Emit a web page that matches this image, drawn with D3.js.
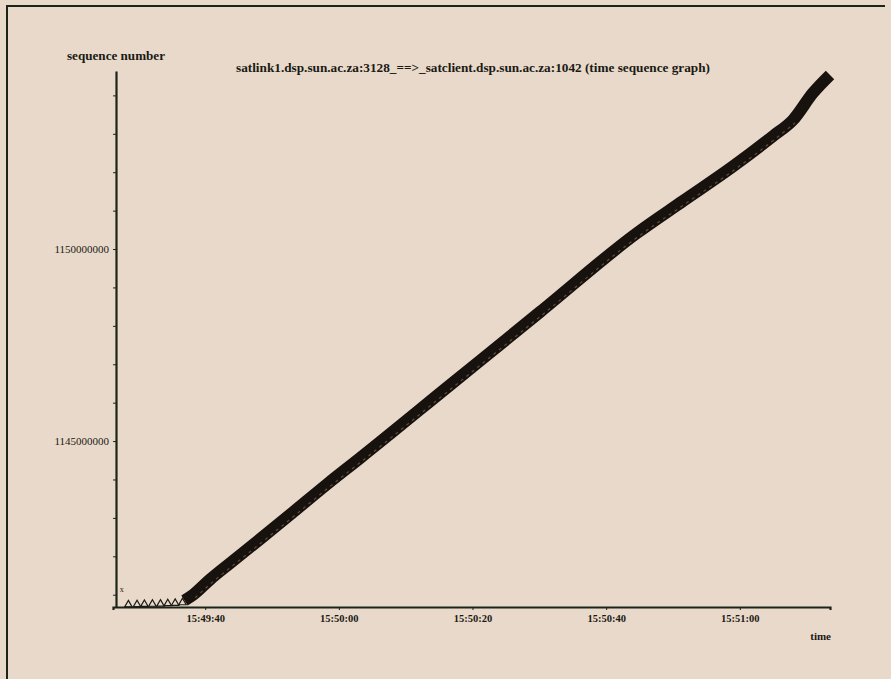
<!DOCTYPE html>
<html lang="en">
<head>
    <meta charset="UTF-8">
    <script src="https://cdn.jsdelivr.net/npm/d3@7"></script>
    <style>
        body{
            margin:0;
            background:#e9d9ca;
        }
        svg text{
            font-family:"Liberation Serif","DejaVu Serif",serif;
            fill:#1a1a14;
        }
        .axis path,.axis line{
            stroke:#1c2419;
        }
    </style>
    <title>time sequence graph</title>
</head>
<body>
    <script>
        // seconds after 15:49:00 and sequence numbers
        var bandTimes = [36.9, 38.2, 40.75, 43.74, 48.23, 53.16, 58.25, 63.19, 76.65, 90.11, 104.62, 111.5, 118.98, 124.97, 127.96, 130.95, 133.5];
        var bandSeq = [1140850000, 1141000000, 1141400000, 1141823000, 1142450000, 1143150000, 1143880000, 1144560000, 1146460000, 1148360000, 1150417000, 1151250000, 1152150000, 1152940000, 1153359000, 1154063000, 1154531000];
        var startTimes = [28.5, 29.8, 30.9, 32.1, 33.3, 34.4, 35.5, 36.6];
        var startSeq = [1140740000, 1140745000, 1140750000, 1140755000, 1140760000, 1140770000, 1140780000, 1140795000];
        var synTime = [27.5];
        var synSeq = [1141060000];
        var xTicks = [40, 60, 80, 100, 120];
        var yTicks = [1141000000,1142000000,1143000000,1144000000,1145000000,1146000000,1147000000,1148000000,1149000000,1150000000,1151000000,1152000000,1153000000,1154000000];
        var yLabelled = [1145000000, 1150000000];

        var width = 891, height = 679;
        var t0 = new Date(2000, 0, 1, 15, 49, 0);
        function toDate(s){ return new Date(+t0 + s*1000); }

        var svg = d3.select("body")
            .append("svg")
            .attr("width", width)
            .attr("height", height);

        // frame
        svg.append("path")
            .attr("d", "M7,679V6H885")
            .attr("fill", "none")
            .attr("stroke", "#1c2419")
            .attr("stroke-width", 2);

        var x = d3.scaleTime()
            .domain([toDate(26.2), toDate(133.5)])
            .range([113, 830]);
        var y = d3.scaleLinear()
            .domain([1140680000, 1154635000])
            .range([607, 71]);

        var xAxis = svg.append("g")
            .attr("class", "axis")
            .attr("transform", "translate(0,607)")
            .call(d3.axisBottom(x)
                .tickValues(xTicks.map(toDate))
                .tickSize(3)
                .tickFormat(d3.timeFormat("%H:%M:%S")));
        xAxis.select(".domain").attr("stroke-width", 2.2);
        xAxis.selectAll("text")
            .attr("font-size", 10.5)
            .attr("font-weight", "bold")
            .attr("dy", "0.85em");

        var yAxis = svg.append("g")
            .attr("class", "axis")
            .attr("transform", "translate(116,0)")
            .call(d3.axisLeft(y)
                .tickValues(yTicks)
                .tickSize(3)
                .tickSizeOuter(0)
                .tickFormat(function(d){
                    return yLabelled.indexOf(d) >= 0 ? d : "";
                }));
        yAxis.select(".domain").attr("stroke-width", 2.2);
        yAxis.selectAll("text")
            .attr("font-size", 11)
            .attr("x", -7);

        svg.append("text")
            .attr("x", 67)
            .attr("y", 60)
            .attr("font-size", 12)
            .attr("font-weight", "bold")
            .attr("textLength", 98)
            .attr("lengthAdjust", "spacingAndGlyphs")
            .text("sequence number");
        svg.append("text")
            .attr("x", 236)
            .attr("y", 72)
            .attr("font-size", 12)
            .attr("font-weight", "bold")
            .attr("textLength", 474)
            .attr("lengthAdjust", "spacingAndGlyphs")
            .text("satlink1.dsp.sun.ac.za:3128_==>_satclient.dsp.sun.ac.za:1042 (time sequence graph)");
        svg.append("text")
            .attr("x", 831)
            .attr("y", 640)
            .attr("text-anchor", "end")
            .attr("font-size", 11)
            .attr("font-weight", "bold")
            .text("time");

        // first segments
        svg.selectAll(".seg")
            .data(startTimes)
            .enter()
            .append("path")
            .attr("class", "seg")
            .attr("transform", function(d, i){
                return "translate(" + x(toDate(d)) + "," + y(startSeq[i]) + ")";
            })
            .attr("d", d3.symbol(d3.symbolTriangle, 24))
            .attr("fill", "none")
            .attr("stroke", "#1c1a14")
            .attr("stroke-width", 1.2);

        // data band
        var band = bandTimes.map(function(t, i){ return [toDate(t), bandSeq[i]]; });
        var line = d3.line()
            .x(function(d){ return x(d[0]); })
            .y(function(d){ return y(d[1]); })
            .curve(d3.curveMonotoneX);
        svg.append("path")
            .datum(band)
            .attr("d", line)
            .attr("fill", "none")
            .attr("stroke", "#17120e")
            .attr("stroke-width", 12);
        svg.append("path")
            .datum(band.slice(1, 15))
            .attr("d", line)
            .attr("transform", "translate(2,3)")
            .attr("fill", "none")
            .attr("stroke", "#5e4f43")
            .attr("stroke-width", 1.2)
            .attr("stroke-dasharray", "3,4");

        svg.selectAll(".syn")
            .data(synTime)
            .enter()
            .append("text")
            .attr("class", "syn")
            .attr("x", function(d){ return x(toDate(d)); })
            .attr("y", function(d, i){ return y(synSeq[i]); })
            .attr("font-size", 8)
            .attr("text-anchor", "middle")
            .text("x");
    </script>
</body>
</html>
